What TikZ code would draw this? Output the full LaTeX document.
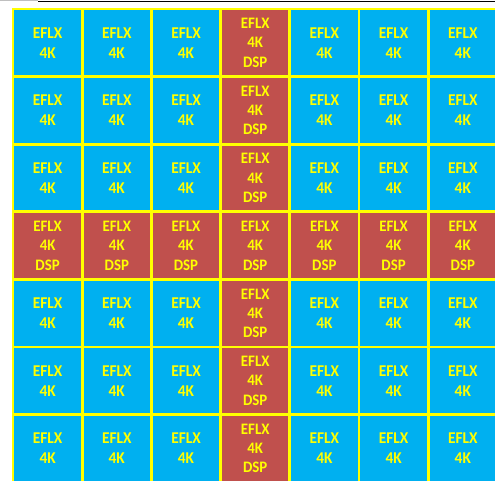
\documentclass[tikz,border=0pt]{standalone}
\usepackage{fontspec}
\setmainfont[FakeStretch=0.93]{Carlito}
\definecolor{cellblue}{HTML}{00B0F0}
\definecolor{cellred}{HTML}{C0504D}
\definecolor{gridyellow}{HTML}{FFFF00}
\begin{document}
\begin{tikzpicture}[x=1pt,y=-1pt,
  cell/.style={draw=gridyellow, line width=2.8pt, minimum width=69.2pt, minimum height=67.6pt,
    inner sep=0pt, outer sep=0pt, text=gridyellow, align=center},
  fkcell/.style={cell, fill=cellblue, font=\bfseries\fontsize{16.5}{20}\selectfont},
  dspcell/.style={cell, fill=cellred, font=\bfseries\fontsize{16}{19.3}\selectfont}]
\useasboundingbox (0,0) rectangle (495,481);
\fill[white] (0,0) rectangle (495,481);
\coordinate (g0) at (0,0.6);
\coordinate (g1) at (38,0.6);
\coordinate (k0) at (38,1.6);
\coordinate (k1) at (495,1.6);
\draw[black!25, line width=1.2pt] (g0) -- (g1);
\draw[black, line width=1.1pt] (k0) -- (k1);
\foreach \r in {1,...,7}{
  \foreach \c in {1,...,7}{
    \pgfmathsetmacro\cx{13+69.2*(\c-0.5)}
    \pgfmathsetmacro\cy{9+67.6*(\r-0.5)}
    \pgfmathtruncatemacro\isdsp{(\r==4)||(\c==4)}
    \ifnum\isdsp=1
      \node[dspcell] (c-\r-\c) at (\cx,\cy) {EFLX\\4K\\DSP};
    \else
      \node[fkcell] (c-\r-\c) at (\cx,\cy) {EFLX\\4K};
    \fi
  }
}
\end{tikzpicture}
\end{document}
